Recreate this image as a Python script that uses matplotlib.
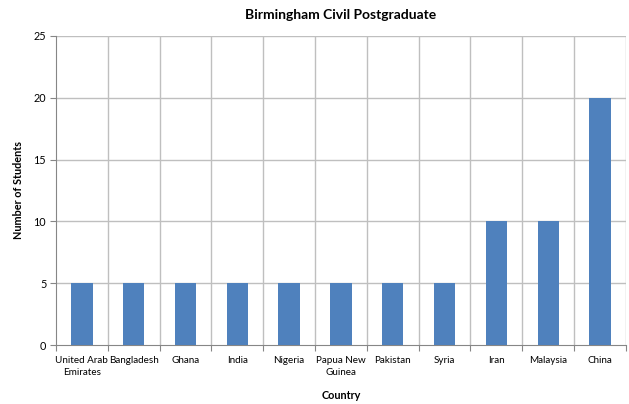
import matplotlib
matplotlib.use("Agg")
import matplotlib.pyplot as plt
import numpy as np

countries = ["United Arab\nEmirates", "Bangladesh", "Ghana", "India", "Nigeria",
             "Papua New\nGuinea", "Pakistan", "Syria", "Iran", "Malaysia", "China"]
students = [5, 5, 5, 5, 5, 5, 5, 5, 10, 10, 20]
yticks = [0, 5, 10, 15, 20, 25]

plt.rcParams['font.family'] = ['Lato', 'DejaVu Sans']

fig = plt.figure(figsize=(6.29, 4.04), dpi=100)
ax = fig.add_axes([0.089, 0.146, 0.906, 0.765])

x = np.arange(len(countries))
ax.bar(x, students, width=0.41, color='#4F81BD', zorder=3)
ax.set_xlim(-0.5, len(countries) - 0.5)
ax.set_ylim(0, 25)
ax.set_yticks(yticks)
ax.set_yticklabels([str(v) for v in yticks], fontsize=7.8)

# category labels
ax.set_xticks(x)
ax.set_xticklabels(countries, fontsize=7.1, linespacing=1.45)
ax.tick_params(axis='x', length=0, pad=8)
# category boundary ticks + vertical grid
bounds = np.arange(-0.5, len(countries) + 0.5, 1)
ax.set_xticks(bounds, minor=True)
ax.tick_params(axis='x', which='minor', length=4, color='#868686', width=0.8)
ax.tick_params(axis='y', length=4, color='#868686', width=0.8, pad=3)
for b in bounds[1:]:
    ax.axvline(b, color='#BFBFBF', lw=1.0, zorder=1)
for v in yticks[1:]:
    ax.axhline(v, color='#BFBFBF', lw=1.0, zorder=1)

for s in ['top', 'right']:
    ax.spines[s].set_visible(False)
ax.spines['left'].set_color('#868686')
ax.spines['bottom'].set_color('#868686')
ax.spines['left'].set_linewidth(0.8)
ax.spines['bottom'].set_linewidth(0.8)

ax.set_title("Birmingham Civil Postgraduate", fontsize=10, fontweight='bold', pad=12)
ax.set_ylabel("Number of Students", fontsize=7.8, fontweight='bold', labelpad=7)
ax.set_xlabel("Country", fontsize=7.8, fontweight='bold', labelpad=9)

fig.savefig("out.png", dpi=100)
